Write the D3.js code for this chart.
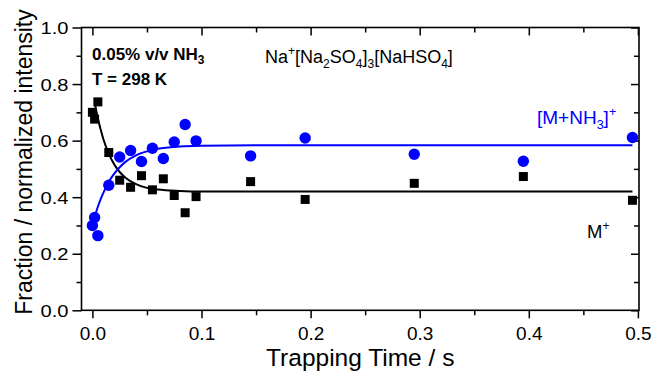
<!DOCTYPE html>
<html>
<head>
<meta charset="utf-8">
<script src="https://cdn.jsdelivr.net/npm/d3@7"></script>
<style>
  html, body { margin: 0; padding: 0; background: #fff; }
  svg { display: block; }
  text { font-family: "Liberation Sans", Arial, sans-serif; }
</style>
</head>
<body>
<svg id="chart" width="652" height="371"></svg>
<script>
// ---- data ----
const trapTimes = [0, 0.002, 0.005, 0.015, 0.025, 0.035, 0.045, 0.055, 0.065, 0.075, 0.085, 0.095, 0.145, 0.195, 0.295, 0.395, 0.495];
const mPlus     = [0.700, 0.676, 0.737, 0.558, 0.460, 0.435, 0.476, 0.426, 0.465, 0.406, 0.345, 0.402, 0.455, 0.392, 0.449, 0.473, 0.389];
const mNH3Plus  = [0.300, 0.328, 0.264, 0.442, 0.542, 0.565, 0.526, 0.573, 0.537, 0.595, 0.657, 0.599, 0.546, 0.609, 0.552, 0.527, 0.611];

// fitted curves
const fitTimesM    = [0.0025, 0.005, 0.0075, 0.01, 0.015, 0.02, 0.025, 0.03, 0.04, 0.05, 0.06, 0.08, 0.1, 0.15, 0.3, 0.495];
const fitM         = [0.725, 0.679, 0.640, 0.606, 0.554, 0.516, 0.489, 0.470, 0.446, 0.433, 0.427, 0.422, 0.420, 0.420, 0.420, 0.420];
const fitTimesNH3  = [0.002, 0.005, 0.0075, 0.01, 0.015, 0.02, 0.025, 0.03, 0.04, 0.05, 0.06, 0.08, 0.1, 0.15, 0.3, 0.495];
const fitNH3       = [0.329, 0.366, 0.392, 0.415, 0.454, 0.483, 0.506, 0.524, 0.548, 0.562, 0.571, 0.579, 0.582, 0.584, 0.584, 0.584];

const xMajorTicks = [0, 0.1, 0.2, 0.3, 0.4, 0.5];
const xMinorTicks = [0.05, 0.15, 0.25, 0.35, 0.45];
const yMajorTicks = [0, 0.2, 0.4, 0.6, 0.8, 1.0];
const yMinorTicks = [0.1, 0.3, 0.5, 0.7, 0.9];

// ---- layout ----
const svg = d3.select("#chart");
const L = 81.5, R = 639, T = 27.5, B = 310.3;
const x = d3.scaleLinear().domain([-0.01, 0.501]).range([L, R]);
const y = d3.scaleLinear().domain([0, 1]).range([B, T]);
const BLUE = "#0000ff";
const fmt = d3.format(".1f");

function styleAxis(g) {
  g.select(".domain").remove();
  g.selectAll("line").attr("stroke", "#000").attr("stroke-width", 1.5);
}
svg.append("g").attr("transform", `translate(0,${B})`)
  .call(d3.axisBottom(x).tickValues(xMajorTicks).tickSize(8).tickPadding(8).tickFormat(fmt))
  .call(styleAxis)
  .call(g => g.selectAll("text").attr("font-size", 19).attr("fill", "#000")
    .attr("font-family", "Liberation Sans, Arial, sans-serif").attr("dy", null).attr("y", 30));
svg.append("g").attr("transform", `translate(0,${B})`)
  .call(d3.axisBottom(x).tickValues(xMinorTicks).tickSize(5).tickFormat(""))
  .call(styleAxis);
svg.append("g").attr("transform", `translate(0,${T})`)
  .call(d3.axisBottom(x).tickValues(xMajorTicks).tickSize(8).tickFormat(""))
  .call(styleAxis);
svg.append("g").attr("transform", `translate(0,${T})`)
  .call(d3.axisBottom(x).tickValues(xMinorTicks).tickSize(5).tickFormat(""))
  .call(styleAxis);

svg.append("g").attr("transform", `translate(${L},0)`)
  .call(d3.axisLeft(y).tickValues(yMajorTicks).tickSize(9).tickPadding(4).tickFormat(fmt))
  .call(styleAxis)
  .call(g => g.selectAll("text").attr("font-size", 17).attr("fill", "#000")
    .attr("font-family", "Liberation Sans, Arial, sans-serif")
    .attr("dy", "0.36em").attr("x", -13)
    .attr("textLength", 28).attr("lengthAdjust", "spacingAndGlyphs"));
svg.append("g").attr("transform", `translate(${L},0)`)
  .call(d3.axisLeft(y).tickValues(yMinorTicks).tickSize(5).tickFormat(""))
  .call(styleAxis);
svg.append("g").attr("transform", `translate(${R},0)`)
  .call(d3.axisLeft(y).tickValues(yMajorTicks).tickSize(8).tickFormat(""))
  .call(styleAxis);
svg.append("g").attr("transform", `translate(${R},0)`)
  .call(d3.axisLeft(y).tickValues(yMinorTicks).tickSize(5).tickFormat(""))
  .call(styleAxis);

// frame
svg.append("rect").attr("x", L).attr("y", T).attr("width", R - L).attr("height", B - T)
  .attr("fill", "none").attr("stroke", "#000").attr("stroke-width", 1.6);

// fit curves
const lineGen = d3.line().x(d => x(d[0])).y(d => y(d[1])).curve(d3.curveMonotoneX);
svg.append("path").datum(d3.zip(fitTimesM, fitM)).attr("d", lineGen)
  .attr("fill", "none").attr("stroke", "#000").attr("stroke-width", 2);
svg.append("path").datum(d3.zip(fitTimesNH3, fitNH3)).attr("d", lineGen)
  .attr("fill", "none").attr("stroke", BLUE).attr("stroke-width", 2);

// markers
const sq = 9;
svg.append("g").selectAll("rect").data(d3.zip(trapTimes, mPlus)).join("rect")
  .attr("x", d => x(d[0]) - sq / 2).attr("y", d => y(d[1]) - sq / 2)
  .attr("width", sq).attr("height", sq).attr("fill", "#000");
svg.append("g").selectAll("circle").data(d3.zip(trapTimes, mNH3Plus)).join("circle")
  .attr("cx", d => x(d[0])).attr("cy", d => y(d[1])).attr("r", 5.7).attr("fill", BLUE);

// axis titles
svg.append("text").attr("x", (L + R) / 2).attr("y", 366).attr("text-anchor", "middle")
  .attr("font-size", 24.5).text("Trapping Time / s");
svg.append("text").attr("transform", "translate(32,162) rotate(-90)").attr("text-anchor", "middle")
  .attr("font-size", 23).text("Fraction / normalized intensity");

// annotations
const t1 = svg.append("text").attr("x", 92).attr("y", 60).attr("font-size", 17).attr("font-weight", "bold");
t1.append("tspan").text("0.05% v/v NH");
t1.append("tspan").attr("font-size", 12).attr("dy", 4).text("3");
svg.append("text").attr("x", 92).attr("y", 85).attr("font-size", 17).attr("font-weight", "bold").text("T = 298 K");

const t2 = svg.append("text").attr("x", 265).attr("y", 63).attr("font-size", 18);
t2.append("tspan").text("Na");
t2.append("tspan").attr("font-size", 12).attr("dy", -8).text("+");
t2.append("tspan").attr("dy", 8).text("[Na");
t2.append("tspan").attr("font-size", 12).attr("dy", 5).text("2");
t2.append("tspan").attr("dy", -5).text("SO");
t2.append("tspan").attr("font-size", 12).attr("dy", 5).text("4");
t2.append("tspan").attr("dy", -5).text("]");
t2.append("tspan").attr("font-size", 12).attr("dy", 5).text("3");
t2.append("tspan").attr("dy", -5).text("[NaHSO");
t2.append("tspan").attr("font-size", 12).attr("dy", 5).text("4");
t2.append("tspan").attr("dy", -5).text("]");

const t3 = svg.append("text").attr("x", 537).attr("y", 124).attr("font-size", 19).attr("fill", BLUE);
t3.append("tspan").text("[M+NH");
t3.append("tspan").attr("font-size", 12.5).attr("dy", 5).text("3");
t3.append("tspan").attr("dy", -5).text("]");
t3.append("tspan").attr("font-size", 12.5).attr("dy", -8).text("+");

const t4 = svg.append("text").attr("x", 587).attr("y", 238).attr("font-size", 18.5).attr("fill", "#000");
t4.append("tspan").text("M");
t4.append("tspan").attr("font-size", 12).attr("dy", -8).text("+");
</script>
</body>
</html>
